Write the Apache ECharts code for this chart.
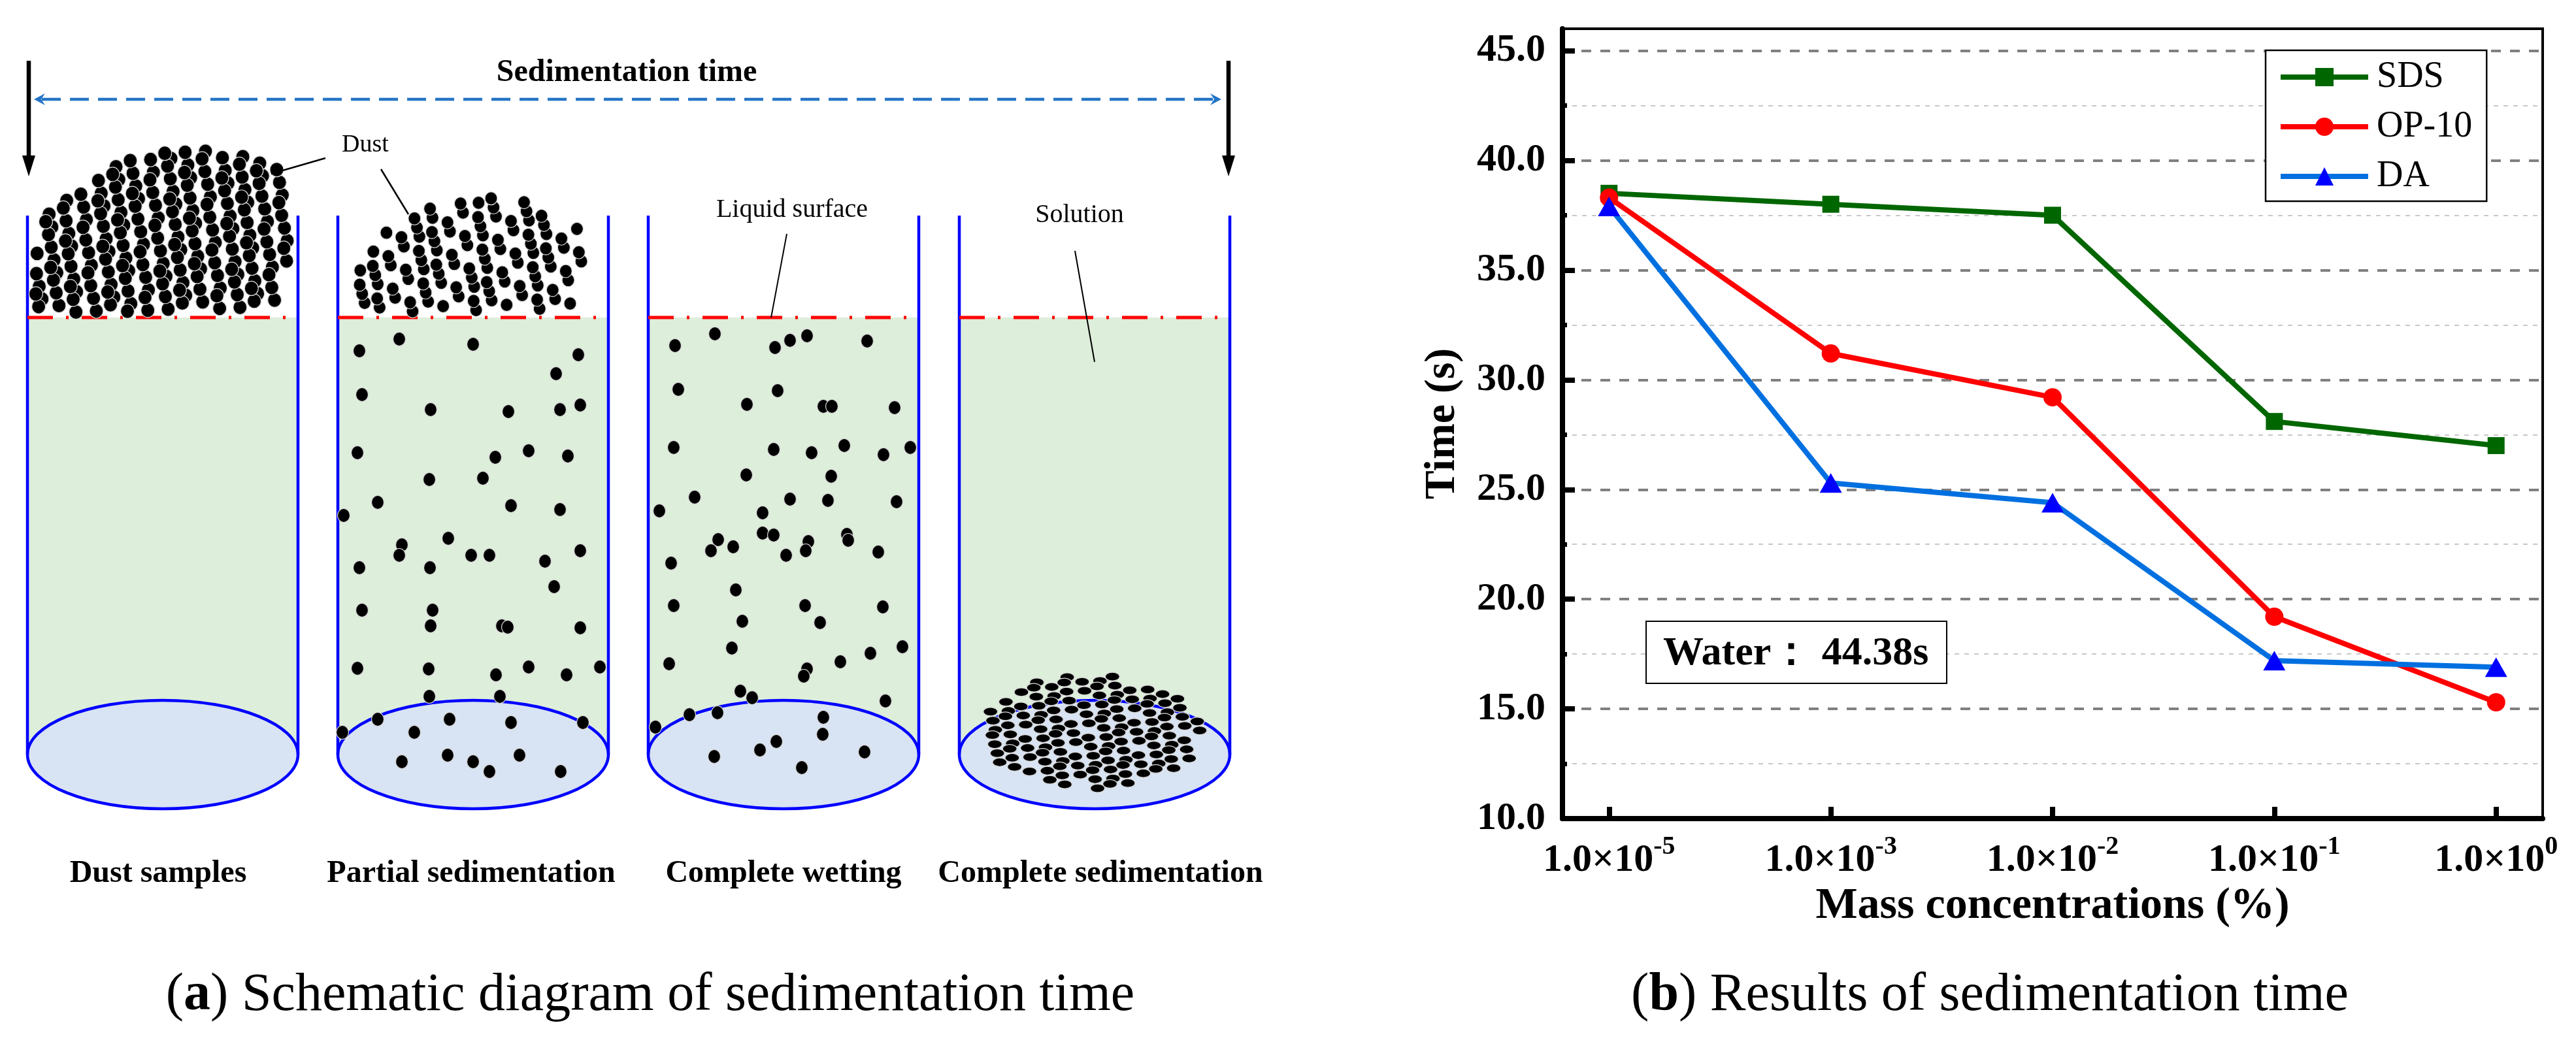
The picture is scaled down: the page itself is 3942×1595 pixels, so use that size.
<!DOCTYPE html>
<html>
<head>
<meta charset="utf-8">
<script src="https://cdn.jsdelivr.net/npm/echarts@6/dist/echarts.min.js"></script>
<style>
  html, body { margin: 0; padding: 0; background: #fff; }
  #chart { width: 3942px; height: 1595px; }
</style>
</head>
<body>
<div id="chart"></div>
<script>
// ---- data (panel b) ----
const xExponents = ['-5', '-3', '-2', '-1', '0'];
const sdsTime = [38.5, 38.0, 37.5, 28.1, 27.0];
const op10Time = [38.3, 31.2, 29.2, 19.2, 15.3];
const daTime = [37.9, 25.3, 24.4, 17.2, 16.9];
const yTicks = [10, 15, 20, 25, 30, 35, 40, 45];
const yMinorTicks = [12.5, 17.5, 22.5, 27.5, 32.5, 37.5, 42.5];
const waterTime = '44.38s';

// ---- schematic (panel a): dust grains ----
const tube2Dots = [[550,537],[611,519],[724,527],[885,543],[851,572],[554,604],[659,627],[778,630],[857,627],[888,620],
  [547,693],[758,700],[809,690],[869,698],[657,734],[739,732],[578,769],[526,789],[782,774],[857,780],
  [615,834],[611,850],[686,824],[721,850],[749,850],[658,869],[834,859],[888,843],[550,869],[848,898],
  [554,934],[662,934],[659,958],[768,958],[777,960],[888,961],[547,1023],[656,1024],[759,1033],[809,1021],
  [867,1033],[918,1021],[657,1066],[765,1066],[578,1101],[524,1121],[634,1121],[688,1101],[782,1106],[892,1106],
  [615,1166],[685,1156],[724,1166],[749,1181],[795,1156],[858,1181]];
const tube3Dots = [[1033,529],[1094,511],[1186,532],[1209,521],[1235,514],[1327,522],[1038,596],[1190,598],[1143,619],[1260,622],
  [1273,622],[1369,624],[1031,685],[1184,688],[1242,693],[1292,682],[1352,696],[1393,685],[1142,727],[1272,729],
  [1063,761],[1209,764],[1267,766],[1372,768],[1009,782],[1167,785],[1099,826],[1088,843],[1122,837],[1167,816],
  [1184,819],[1203,850],[1237,829],[1233,843],[1296,818],[1298,827],[1344,845],[1027,862],[1126,903],[1031,927],
  [1136,951],[1232,927],[1255,953],[1351,929],[1120,992],[1381,990],[1024,1016],[1235,1024],[1230,1035],[1286,1013],
  [1332,1000],[1133,1058],[1151,1068],[1098,1091],[1055,1094],[1355,1073],[1003,1113],[1260,1098],[1259,1124],[1093,1158],
  [1163,1148],[1188,1135],[1227,1175],[1323,1151]];
const stageLabels = ['Dust samples', 'Partial sedimentation', 'Complete wetting', 'Complete sedimentation'];

const FONT = '"Liberation Serif", "Times New Roman", serif';
const tubeLeft = [42, 517, 992, 1468];
const tubeW = 414;
const tubeTop = 330;
const surfaceY = 486;
const bottomY = 1155;
const bottomRy = 83;

// spread grains evenly inside a pile outline (R2 low-discrepancy sequence)
function fillPile(n, x0, x1, y0, y1, inside) {
  const pts = [];
  for (let i = 1; pts.length < n && i < 20000; i++) {
    const u = (0.5 + i * 0.7548776662466927) % 1;
    const v = (0.5 + i * 0.5698402909980532) % 1;
    const x = x0 + u * (x1 - x0), y = y0 + v * (y1 - y0);
    if (inside(x, y)) pts.push([x, y]);
  }
  return pts;
}

function grain(p, rx, ry) {
  return { type: 'ellipse', silent: true, shape: { cx: p[0], cy: p[1], rx: rx, ry: ry },
    style: { fill: '#000', stroke: '#d9d9d9', lineWidth: 1.2 } };
}
function seg(x1, y1, x2, y2, stroke, w, dash) {
  return { type: 'line', silent: true, shape: { x1, y1, x2, y2 },
    style: { stroke: stroke, lineWidth: w, lineDash: dash || null } };
}
function label(text, x, y, size, weight) {
  return { type: 'text', silent: true, style: { text: text, x: x, y: y, fill: '#000',
    font: (weight || 'normal') + ' ' + size + 'px ' + FONT,
    textAlign: 'center', textVerticalAlign: 'middle', align: 'center', verticalAlign: 'middle' } };
}

const pile1 = fillPile(210, 53, 440, 228, 478, (x, y) => {
  const t = (x - 290) / 275;
  return Math.abs(t) < 1 && y >= 478 - 250 * Math.sqrt(1 - t * t);
});
const pile2 = fillPile(105, 548, 890, 300, 478, (x, y) => {
  const t = (x - 740) / 210;
  return Math.abs(t) < 1 && y >= 478 - 178 * Math.sqrt(1 - t * t);
});
const pile4 = fillPile(140, 1500, 1840, 1032, 1210, (x, y) => {
  const a = (x - 1670) / 170, b = (y - 1120) / 88;
  return a * a + b * b <= 1;
});

const schematic = [];
tubeLeft.forEach((x0, i) => {
  const cx = x0 + tubeW / 2;
  schematic.push({ type: 'rect', silent: true, shape: { x: x0, y: surfaceY, width: tubeW, height: bottomY - surfaceY },
    style: { fill: '#ddeeda' } });
  schematic.push({ type: 'ellipse', silent: true, shape: { cx: cx, cy: bottomY, rx: tubeW / 2, ry: bottomRy },
    style: { fill: '#d8e3f3', stroke: '#0000ff', lineWidth: 4.5 } });
  schematic.push(seg(x0, tubeTop, x0, bottomY, '#0000ff', 4.5));
  schematic.push(seg(x0 + tubeW, tubeTop, x0 + tubeW, bottomY, '#0000ff', 4.5));
  schematic.push(seg(x0, surfaceY, x0 + tubeW, surfaceY, '#ff0000', 5, [39, 20, 4, 20]));
  schematic.push(label(stageLabels[i], [242, 721, 1199, 1684][i], 1338, 48, 'bold'));
});
tube2Dots.forEach(p => schematic.push(grain(p, 9.5, 10.5)));
tube3Dots.forEach(p => schematic.push(grain(p, 9.5, 10.5)));
pile1.forEach(p => schematic.push(grain(p, 10.5, 11)));
pile2.forEach(p => schematic.push(grain(p, 9.5, 10)));
pile4.forEach(p => schematic.push(grain(p, 11, 6.5)));

// arrows and annotations
[44, 1880].forEach(x => {
  schematic.push(seg(x, 93, x, 245, '#000', 6.5));
  schematic.push({ type: 'polygon', silent: true, shape: { points: [[x - 10, 238], [x + 10, 238], [x, 270]] }, style: { fill: '#000' } });
});
schematic.push(seg(64, 152, 1857, 152, '#2474c6', 4.5, [29, 14]));
schematic.push({ type: 'polygon', silent: true, shape: { points: [[52, 152], [69, 143], [63, 152], [69, 161]] }, style: { fill: '#2474c6' } });
schematic.push({ type: 'polygon', silent: true, shape: { points: [[1869, 152], [1852, 143], [1858, 152], [1852, 161]] }, style: { fill: '#2474c6' } });
schematic.push(label('Sedimentation time', 959, 112, 48, 'bold'));
schematic.push(label('Dust', 559, 222, 38));
schematic.push(seg(415, 266, 498, 242, '#000', 2.5));
schematic.push(seg(583, 259, 625, 328, '#000', 2.5));
schematic.push(label('Liquid surface', 1212, 321, 40));
schematic.push(seg(1204, 358, 1180, 486, '#000', 2));
schematic.push(label('Solution', 1652, 329, 40));
schematic.push(seg(1645, 384, 1675, 554, '#000', 2));

// captions
const captionRich = { b: { fontWeight: 'bold', fontSize: 82, fontFamily: FONT, fill: '#000' } };
[['({b|a}) Schematic diagram of sedimentation time', 995], ['({b|b}) Results of sedimentation time', 3045]].forEach(c => {
  schematic.push({ type: 'text', silent: true, style: { text: c[0], x: c[1], y: 1524, fill: '#000',
    fontSize: 82, fontFamily: FONT, rich: captionRich,
    textAlign: 'center', textVerticalAlign: 'middle', align: 'center', verticalAlign: 'middle' } });
});

// water reference box
schematic.push({ type: 'rect', silent: true, z: 5, shape: { x: 2519, y: 951, width: 460, height: 95 },
  style: { fill: '#fff', stroke: '#000', lineWidth: 2 } });
schematic.push({ type: 'text', silent: true, z: 5, style: { text: 'Water： ' + waterTime, x: 2545, y: 1001, fill: '#000',
  font: 'bold 62px ' + FONT, textAlign: 'left', textVerticalAlign: 'middle', align: 'left', verticalAlign: 'middle' } });

const chart = echarts.init(document.getElementById('chart'));
const axisText = { fontFamily: FONT, fontWeight: 'bold', color: '#000' };

chart.setOption({
  animation: false,
  backgroundColor: '#fff',
  grid: { left: 2391, top: 44, width: 1500, height: 1209, show: true, borderColor: '#000', borderWidth: 4,
    backgroundColor: 'rgba(0,0,0,0)' },
  legend: {
    orient: 'vertical', left: 3467, top: 77, padding: [13, 22, 10, 19],
    itemWidth: 134, itemHeight: 35, itemGap: 20,
    borderColor: '#000', borderWidth: 2.5, backgroundColor: '#fff',
    lineStyle: { width: 8 },
    textStyle: { fontFamily: FONT, fontSize: 56, color: '#000', padding: [0, 0, 0, 8] },
    data: ['SDS', 'OP-10', 'DA']
  },
  xAxis: {
    type: 'value', min: -0.21, max: 4.21,
    name: 'Mass concentrations (%)', nameLocation: 'middle', nameGap: 100,
    nameTextStyle: Object.assign({ fontSize: 68 }, axisText),
    axisLine: { onZero: false, lineStyle: { color: '#000', width: 8 } },
    axisTick: { inside: true, length: 18, lineStyle: { color: '#000', width: 8 }, customValues: [0, 1, 2, 3, 4] },
    axisLabel: {
      customValues: [0, 1, 2, 3, 4], margin: 24,
      formatter: v => '{a|1.0×10}{b|' + xExponents[Math.round(v)] + '}',
      rich: {
        a: Object.assign({ fontSize: 60, lineHeight: 80 }, axisText),
        b: Object.assign({ fontSize: 40, lineHeight: 40, verticalAlign: 'top' }, axisText)
      }
    },
    splitLine: { show: false }
  },
  yAxis: [{
    type: 'value', min: 10, max: 46,
    name: 'Time (s)', nameLocation: 'middle', nameGap: 150,
    nameTextStyle: Object.assign({ fontSize: 66 }, axisText),
    axisLine: { show: true, onZero: false, lineStyle: { color: '#000', width: 8 } },
    axisTick: { inside: true, length: 19, lineStyle: { color: '#000', width: 8 }, customValues: yTicks },
    axisLabel: Object.assign({ customValues: yTicks, margin: 26, fontSize: 60, formatter: v => v.toFixed(1) }, axisText),
    splitLine: { show: true, lineStyle: { color: '#808080', width: 4, type: [15, 14] } }
  }, {
    type: 'value', min: 10, max: 46, position: 'left',
    axisLine: { show: false, onZero: false },
    axisLabel: { show: false },
    axisTick: { show: true, inside: true, length: 7, lineStyle: { color: '#000', width: 7 }, customValues: yMinorTicks },
    splitLine: { show: true, lineStyle: { color: '#c8c8c8', width: 2, type: [7, 8] } }
  }],
  series: [
    { name: 'SDS', type: 'line', data: sdsTime.map((v, i) => [i, v]), symbol: 'rect', symbolSize: 26,
      lineStyle: { color: '#006600', width: 8 }, itemStyle: { color: '#006600' } },
    { name: 'OP-10', type: 'line', data: op10Time.map((v, i) => [i, v]), symbol: 'circle', symbolSize: 28,
      lineStyle: { color: '#ff0000', width: 8 }, itemStyle: { color: '#ff0000' } },
    { name: 'DA', type: 'line', data: daTime.map((v, i) => [i, v]), symbol: 'triangle', symbolSize: [34, 30],
      lineStyle: { color: '#0070e0', width: 8 }, itemStyle: { color: '#0000ff' } }
  ],
  graphic: { elements: schematic }
});
</script>
</body>
</html>
